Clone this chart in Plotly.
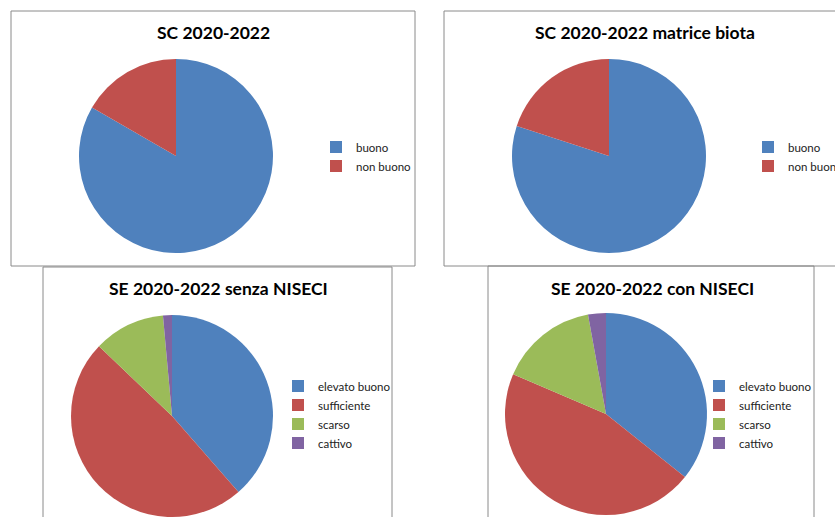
import plotly.graph_objects as go

W, H = 835, 517

# ---- data ----
sc_labels = ["buono", "non buono"]
sc_values = [50, 10]
biota_values = [40, 10]

se_labels = ["elevato buono", "sufficiente", "scarso", "cattivo"]
se_senza_values = [27, 34, 8, 1]
se_con_values = [25, 32, 11, 2]

titles = ["SC 2020-2022", "SC 2020-2022 matrice biota",
          "SE 2020-2022 senza NISECI", "SE 2020-2022 con NISECI"]

colors_sc = ["#4F81BD", "#C0504D"]
colors_se = ["#4F81BD", "#C0504D", "#9BBB59", "#8064A2"]

FONT = "Lato"


def px_x(x):
    return x / W


def px_y(y):
    return 1 - y / H


def dom(cx, cy, r):
    return dict(x=[px_x(cx - r), px_x(cx + r)],
                y=[max(0, px_y(cy + r)), min(1, px_y(cy - r))])


fig = go.Figure()

panels = [
    dict(labels=sc_labels, values=sc_values, colors=colors_sc, c=(176, 156, 97), leg="legend"),
    dict(labels=sc_labels, values=biota_values, colors=colors_sc, c=(609, 156, 97), leg="legend2"),
    dict(labels=se_labels, values=se_senza_values, colors=colors_se, c=(172, 416, 101), leg="legend3"),
    dict(labels=se_labels, values=se_con_values, colors=colors_se, c=(606, 414, 101), leg="legend4"),
]

for i, p in enumerate(panels):
    cx, cy, r = p["c"]
    fig.add_trace(go.Pie(
        labels=p["labels"], values=p["values"],
        marker=dict(colors=p["colors"], line=dict(width=0)),
        sort=False, direction="clockwise", rotation=0,
        textinfo="none", hoverinfo="label+value+percent",
        domain=dom(cx, cy, r), legend=p["leg"], legendgroup="g%d" % i,
        showlegend=True,
    ))

# panel frames
frames = [(11, 11, 415, 266), (444, 11, 840, 266), (43, 267, 392, 530), (488, 266, 814, 530)]
shapes = []
for x0, y0, x1, y1 in frames:
    shapes.append(dict(type="rect", xref="paper", yref="paper",
                       x0=px_x(x0), x1=px_x(x1), y0=px_y(y1), y1=px_y(y0),
                       line=dict(color="#8a8a8a", width=1), fillcolor="rgba(0,0,0,0)"))

# titles
title_pos = [(213, 33), (645, 33), (218, 288), (652, 288)]
annotations = []
for t, (x, y) in zip(titles, title_pos):
    annotations.append(dict(text="<b>%s</b>" % t, x=px_x(x), y=px_y(y), xref="paper", yref="paper",
                            xanchor="center", yanchor="middle", showarrow=False,
                            font=dict(family=FONT, size=17.5, color="#000000")))

leg_font = dict(family=FONT, size=11.5, color="#222222")
leg_pos = [(316, 132.5), (748, 132.5), (278, 371.5), (699, 371.5)]
legends = {}
for name, (x, y) in zip(["legend", "legend2", "legend3", "legend4"], leg_pos):
    legends[name] = dict(x=px_x(x), y=px_y(y), xanchor="left", yanchor="top",
                         font=leg_font, bgcolor="rgba(0,0,0,0)", tracegroupgap=0)

fig.update_layout(
    width=W, height=H,
    margin=dict(l=0, r=0, t=0, b=0, autoexpand=False),
    paper_bgcolor="white", plot_bgcolor="white",
    shapes=shapes, annotations=annotations,
    **legends,
)

fig.write_html("out.html", config={"displayModeBar": False},
               post_script="document.body.style.margin='0';document.body.style.overflow='hidden';")
